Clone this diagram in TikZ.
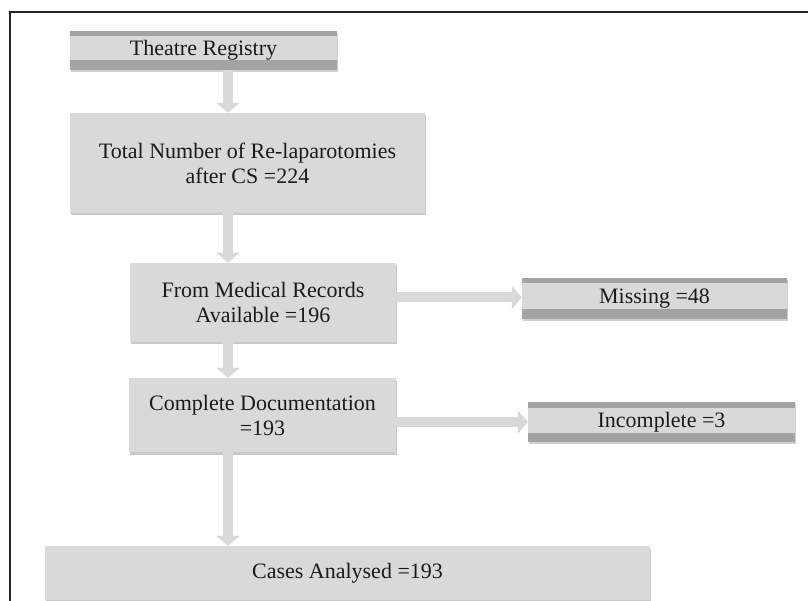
\documentclass[tikz,border=0pt]{standalone}
\usepackage{fontspec}
\setmainfont{Liberation Serif}
\usetikzlibrary{arrows.meta,shadows}
\definecolor{boxgray}{HTML}{D9D9D9}
\definecolor{bandgray}{HTML}{A3A3A3}
\definecolor{txt}{HTML}{1A1A1A}
\begin{document}
\begin{tikzpicture}[x=1pt,y=-1pt,
  box/.style={fill=boxgray, draw=none, inner sep=0pt, align=center, text=txt,
    font=\fontsize{22}{25}\selectfont,
    drop shadow={shadow xshift=1pt, shadow yshift=-2.5pt, opacity=0.35, fill=black!60}},
  bandbox/.style={fill=boxgray, draw=none, inner sep=0pt, align=center, text=txt,
    font=\fontsize{22}{25}\selectfont,
    drop shadow={shadow xshift=1pt, shadow yshift=-2pt, opacity=0.3, fill=black!60},
    path picture={
      \fill[bandgray] (path picture bounding box.north west) rectangle ([yshift=-5.5pt]path picture bounding box.north east);
      \fill[bandgray] (path picture bounding box.south west) rectangle ([yshift=9.5pt]path picture bounding box.south east);
    }},
  flow/.style={draw=boxgray, line width=10pt, -{Triangle[length=10pt,width=23pt]}}
]
\useasboundingbox (0,0) rectangle (808,601);
\fill[white] (0,0) rectangle (808,601);
\draw[line width=1.5pt, black!85] (10,601) -- (10,12) -- (808,12);

\node[bandbox, minimum width=267pt, minimum height=39pt] (tr) at (203.5,50.5) {Theatre Registry};
\node[box, minimum width=355pt, minimum height=100pt] (total) at (247.5,163) {Total Number of Re-laparotomies\\after CS =224};
\node[box, minimum width=266pt, minimum height=79pt] (med) at (263,302.5) {From Medical Records\\Available =196};
\node[bandbox, minimum width=265pt, minimum height=41pt] (miss) at (654.5,298.5) {Missing =48};
\node[box, minimum width=267pt, minimum height=74pt] (comp) at (262.5,415) {Complete Documentation\\=193};
\node[bandbox, minimum width=267pt, minimum height=40pt] (inc) at (661.5,422) {Incomplete =3};
\node[box, minimum width=605pt, minimum height=54pt] (cases) at (347.5,573) {Cases Analysed =193};

\coordinate (ax) at (228,0);
\coordinate (h1) at (0,297.5);
\coordinate (h2) at (0,422);

\draw[flow] (tr.south -| ax) -- (total.north -| ax);
\draw[flow] (total.south -| ax) -- (med.north -| ax);
\draw[flow] (med.south -| ax) -- (comp.north -| ax);
\draw[flow] (comp.south -| ax) -- (cases.north -| ax);
\draw[flow] (med.east |- h1) -- (miss.west |- h1);
\draw[flow] (comp.east |- h2) -- (inc.west |- h2);
\end{tikzpicture}
\end{document}
